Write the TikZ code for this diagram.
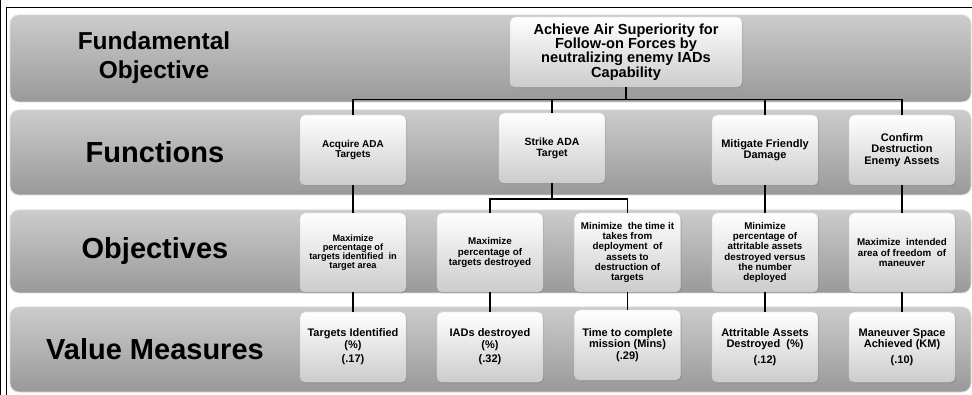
\documentclass[tikz,border=0pt]{standalone}
\usepackage{fontspec}
\setmainfont{Liberation Sans}
\usetikzlibrary{shadows}
\begin{document}
\begin{tikzpicture}[x=1pt,y=-1pt,
  band/.style={rounded corners=9pt, top color=black!20, bottom color=black!40, draw=white!85!black, line width=0.8pt},
  hdr/.style={font=\bfseries\fontsize{29}{30}\selectfont, align=center, text=black},
  box/.style={rounded corners=5pt, top color=white, bottom color=black!20, draw=white!80!black, line width=0.4pt,
     drop shadow={opacity=0.35, shadow xshift=1.2pt, shadow yshift=-1.5pt},
     minimum width=106pt, align=center, inner sep=2pt, text=black},
  link/.style={line width=1.7pt, black},
  frame/.style={line width=1.3pt, black}
]
\useasboundingbox (0,0) rectangle (972,395);
\fill[white] (0,0) rectangle (972,395);
% frame
\draw[frame] (0.8,0) -- (0.8,395);
\draw[frame] (6.3,395) -- (6.3,7.5) -- (972,7.5);
% bands
\path[band] (10,15) rectangle (971,102);
\path[band] (10,110) rectangle (971,195);
\path[band] (10,210) rectangle (971,293);
\path[band] (10,307) rectangle (971,392);
% headers
\node[hdr, font=\bfseries\fontsize{24.5}{29}\selectfont] (h1) at (154,58) {Fundamental\\Objective};
\node[hdr] (h2) at (155,152) {Functions};
\node[hdr] (h3) at (155,251) {Objectives};
\node[hdr] (h4) at (155,349) {Value Measures};
% top box
\node[box, minimum width=232pt, minimum height=70pt, font=\bfseries\fontsize{14.6}{14.4}\selectfont] (top) at (626,52)
  {Achieve Air Superiority for\\Follow-on Forces by\\neutralizing enemy IADs\\Capability};
% functions
\node[box, minimum height=70pt, font=\bfseries\fontsize{10}{10.7}\selectfont] (f1) at (353,150) {Acquire ADA\\Targets};
\node[box, minimum height=70pt, font=\bfseries\fontsize{10.5}{11}\selectfont] (f2) at (552,148) {Strike ADA\\Target};
\node[box, minimum height=70pt, font=\bfseries\fontsize{11}{11.2}\selectfont] (f3) at (765,150) {Mitigate Friendly\\Damage};
\node[box, minimum height=70pt, font=\bfseries\fontsize{11}{11.7}\selectfont] (f4) at (902,150) {Confirm\\Destruction\\Enemy Assets};
% objectives
\node[box, minimum height=79pt, font=\bfseries\fontsize{9.2}{8.9}\selectfont] (o1) at (353,252.5) {Maximize\\percentage of\\targets identified\ \ in\\target area};
\node[box, minimum height=79pt, font=\bfseries\fontsize{9.8}{10.3}\selectfont] (o2) at (490,252.5) {Maximize\\percentage of\\targets destroyed};
\node[box, minimum height=79pt, font=\bfseries\fontsize{9.8}{10.2}\selectfont] (o3) at (627.5,252.5) {Minimize\ \ the time it\\takes from\\deployment\ \ of\\assets to\\destruction of\\targets};
\node[box, minimum height=79pt, font=\bfseries\fontsize{9.8}{10.2}\selectfont] (o4) at (765,252.5) {Minimize\\percentage of\\attritable assets\\destroyed versus\\the number\\deployed};
\node[box, minimum height=79pt, font=\bfseries\fontsize{9.8}{10.3}\selectfont] (o5) at (902,252.5) {Maximize\ \ intended\\area of freedom\ \ of\\maneuver};
% value measures
\node[box, minimum height=70pt, font=\bfseries\fontsize{11}{11.5}\selectfont] (v1) at (353,347) {Targets Identified\\(\%)\\[3pt](.17)};
\node[box, minimum height=70pt, font=\bfseries\fontsize{11}{11.5}\selectfont] (v2) at (490,347) {IADs destroyed\\(\%)\\[3pt](.32)};
\node[box, minimum height=70pt, font=\bfseries\fontsize{11}{11.5}\selectfont] (v3) at (627.5,345) {Time to complete\\mission (Mins)\\(.29)};
\node[box, minimum height=70pt, font=\bfseries\fontsize{11}{11.5}\selectfont] (v4) at (765,347) {Attritable Assets\\Destroyed\ \ (\%)\\[4pt](.12)};
\node[box, minimum height=70pt, font=\bfseries\fontsize{11}{11.5}\selectfont] (v5) at (902,347) {Maneuver Space\\Achieved (KM)\\[4pt](.10)};
% connectors
\coordinate (bus) at (626,99.5);
\draw[link] (top.south) -- (bus);
\draw[link] (bus) -| (f1.north);
\draw[link] (bus) -| (f2.north);
\draw[link] (bus) -| (f3.north);
\draw[link] (bus) -| (f4.north);
\coordinate (sbus) at (552,199);
\draw[link] (f2.south) -- (sbus);
\draw[link] (sbus) -| (o2.north);
\draw[link] (sbus) -| (o3.north);
\draw[link] (f1.south) -- (o1.north);
\draw[link] (f3.south) -- (o4.north);
\draw[link] (f4.south) -- (o5.north);
\draw[link] (o1.south) -- (v1.north);
\draw[link] (o2.south) -- (v2.north);
\draw[link] (o3.south) -- (v3.north);
\draw[link] (o4.south) -- (v4.north);
\draw[link] (o5.south) -- (v5.north);
\end{tikzpicture}
\end{document}
